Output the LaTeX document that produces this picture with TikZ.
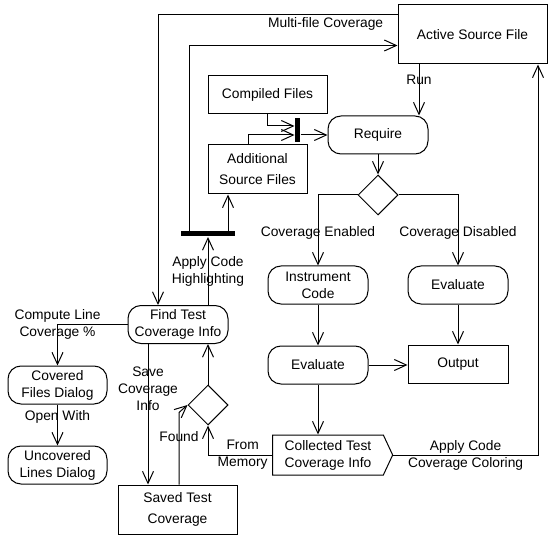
\documentclass[tikz,border=0pt]{standalone}
\usepackage{fontspec}
\setmainfont{Liberation Sans}
\usetikzlibrary{arrows.meta,shapes.geometric,shapes.symbols}

\tikzset{
  act/.style={draw, rectangle, rounded corners=13pt, minimum width=100pt, minimum height=38pt, inner sep=1pt, align=center},
  obj/.style={draw, rectangle, inner sep=1pt, align=center},
  dec/.style={draw, diamond, minimum width=40pt, minimum height=40pt, inner sep=0pt},
  syncbar/.style={fill=black, inner sep=0pt},
  flow/.style={-{Straight Barb[length=12pt,width=11pt]}},
  lbl/.style={inner sep=1pt, align=center}
}

\begin{document}
\begin{tikzpicture}[x=1pt, y=-1pt, line width=1pt, font=\fontsize{13.8}{17}\selectfont]
\useasboundingbox (0,0) rectangle (557,540);

\node[obj, minimum width=149pt, minimum height=59pt] (active) at (472.5,34.5) {Active Source File};
\node[obj, minimum width=119pt, minimum height=38pt] (compiled) at (267.5,95) {Compiled Files};
\node[obj, minimum width=99pt, minimum height=49pt] (additional) at (257.5,169.5) {Additional\\[4pt]Source Files};
\node[syncbar, minimum width=5pt, minimum height=24pt] (join) at (297.5,130) {};
\node[act] (require) at (378,135) {Require};
\node[dec] (choice) at (378,195) {};
\node[act] (instrument) at (318,285) {Instrument\\Code};
\node[act] (evaldis) at (458,285) {Evaluate};
\node[act] (evalen) at (318,365) {Evaluate};
\node[obj, minimum width=100pt, minimum height=38pt] (output) at (458,364) {Output};
\node[draw, signal, signal to=east, signal pointer angle=130, minimum width=120pt, minimum height=40pt, inner sep=1pt, align=center] (collected) at (328,455) {Collected Test\\Coverage Info};
\node[syncbar, minimum width=54pt, minimum height=5pt] (fork) at (208,234) {};
\node[act] (find) at (178,324.5) {Find Test\\Coverage Info};
\node[act, minimum width=99pt] (covered) at (57.5,385) {Covered\\Files Dialog};
\node[act, minimum width=99pt] (uncovered) at (57.5,465) {Uncovered\\Lines Dialog};
\node[dec] (merge) at (208,405) {};
\node[obj, minimum width=119pt, minimum height=49pt] (saved) at (177.5,509.5) {Saved Test\\[4pt]Coverage};

\draw[flow] ([yshift=-10pt]active.north west) -| ([xshift=-20pt]find.north) node[pos=0.15, below=2pt, lbl] {Multi-file Coverage};
\draw[flow] ([xshift=-19pt]fork.north) |- ([yshift=-11pt]active.west);
\draw[flow] ([xshift=20pt]fork.north) -- ([xshift=20pt]fork.north |- additional.south);
\draw[flow] (fork.south |- find.north) -- (fork.south) node[midway, lbl] {Apply Code\\Highlighting};
\draw[flow] (compiled.south) |- ([yshift=4pt]join.west);
\draw[flow] ([xshift=-9.5pt]additional.north) |- ([yshift=-5pt]join.west);
\draw[flow] (join.east |- require.west) -- (require.west);
\draw[flow] ([xshift=-53.5pt]active.south) -- ([xshift=41pt]require.north) node[pos=0.3, lbl] {Run};
\draw[flow] (require.south) -- (choice.north);
\draw[flow] (choice.west) -| (instrument.north) node[pos=0.77, lbl] {Coverage Enabled};
\draw[flow] (choice.east) -| (evaldis.north) node[pos=0.77, lbl] {Coverage Disabled};
\draw[flow] (instrument.south) -- (evalen.north);
\draw[flow] (evaldis.south) -- (output.north);
\draw[flow] (evalen.east) -- (evalen.east -| output.west);
\draw[flow] (evalen.south) -- (evalen.south |- collected.north);
\draw[flow] (collected.east) -| ([xshift=65.5pt]active.south) node[pos=0.25, lbl] {Apply Code\\Coverage Coloring};
\draw[flow] (collected.west) -| (merge.south) node[pos=0.23, lbl] {From\\Memory};
\draw[flow] (merge.north) -- (merge.north |- find.south);
\draw[flow] ([xshift=-30pt]find.south) -- ([xshift=-30pt]find.south |- saved.north) node[pos=0.32, lbl] {Save\\Coverage\\Info};
\draw[flow] ([xshift=1.5pt]saved.north) -- ++(0,-72) node[pos=0.67, lbl] {Found} -- (merge.west);
\draw[flow] (find.west) -| (covered.north) node[pos=0.5, lbl] {Compute Line\\Coverage \%};
\draw[flow] (covered.south) -- (uncovered.north) node[pos=0.3, lbl] {Open With};

\end{tikzpicture}
\end{document}
